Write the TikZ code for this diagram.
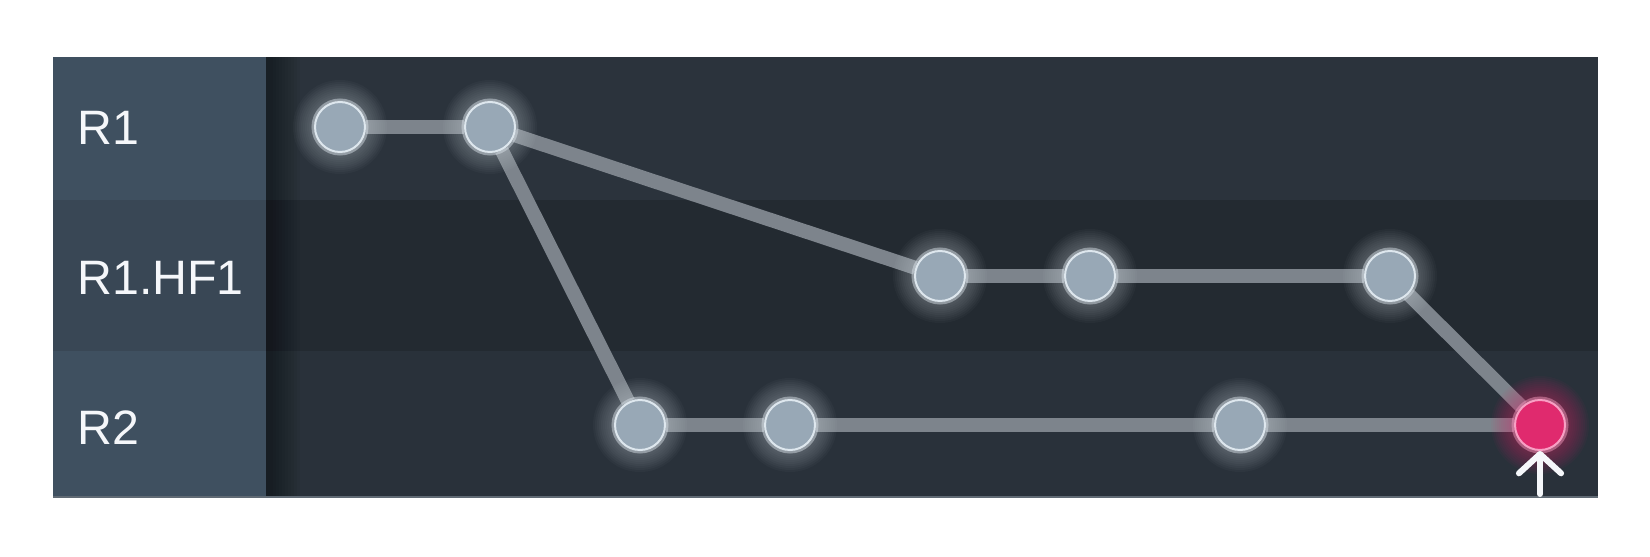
\documentclass[tikz,border=0pt]{standalone}
\usepackage{fontspec}
\setmainfont{Liberation Sans}
\usepackage{xcolor}
\usetikzlibrary{positioning, arrows.meta}
\definecolor{lanebg}{RGB}{63,80,96}
\definecolor{lanebgalt}{RGB}{57,71,85}
\definecolor{rowone}{RGB}{43,51,60}
\definecolor{rowtwo}{RGB}{35,42,49}
\definecolor{rowthree}{RGB}{41,49,58}
\definecolor{edgegrey}{RGB}{125,132,140}
\definecolor{rulegrey}{RGB}{96,106,116}
\definecolor{dotin}{RGB}{152,168,182}
\definecolor{dotout}{RGB}{222,231,238}
\definecolor{headin}{RGB}{224,42,110}
\definecolor{headout}{RGB}{248,160,196}
\definecolor{labeltext}{RGB}{245,247,250}
\pgfdeclarelayer{rows}
\pgfdeclarelayer{edges}
\pgfdeclarelayer{glow}
\pgfsetlayers{rows,edges,glow,main}

\begin{document}
\begin{tikzpicture}[
  x=0.02cm, y=-0.02cm,
  lane/.style={anchor=west, inner sep=0pt, text=labeltext,
    font=\fontsize{27.5pt}{32pt}\selectfont},
  dot/.style={circle, minimum size=1.0cm, inner sep=0pt, fill=dotin,
    draw=dotout, line width=0.04cm,
    preaction={draw=dotout, draw opacity=0.45, line width=0.14cm}},
  head/.style={circle, minimum size=1.0cm, inner sep=0pt, fill=headin,
    draw=headout, line width=0.04cm,
    preaction={draw=headout, draw opacity=0.45, line width=0.14cm}},
  link/.style={edgegrey, line width=0.28cm},
  pointer/.style={draw=labeltext, line width=0.12cm, line cap=round,
    -{Straight Barb[length=11pt, width=24pt, round]}}
]
\useasboundingbox (0,0) rectangle (1650,557);

% commits
\node[dot] (r1a) at (340,127) {};
\node[dot] (r1b) at (490,127) {};
\node[dot] (hfa) at (940,276) {};
\node[dot] (hfb) at (1090,276) {};
\node[dot] (hfc) at (1390,276) {};
\node[dot] (r2a) at (640,425) {};
\node[dot] (r2b) at (790,425) {};
\node[dot] (r2c) at (1240,425) {};
\node[head] (tip) at (1540,425) {};

% lanes
\begin{pgfonlayer}{rows}
  \fill[rowone] (266,57) rectangle (1598,200);
  \fill[rowtwo] (266,200) rectangle (1598,351);
  \fill[rowthree] (266,351) rectangle (1598,497);
  \foreach \i in {0,...,9}
    \fill[black, opacity=0.04] (266,57) rectangle (300-3*\i,497);
  \fill[lanebg] (53,57) rectangle (266,200);
  \fill[lanebgalt] (53,200) rectangle (266,351);
  \fill[lanebg] (53,351) rectangle (266,497);
  \draw[rulegrey, line width=0.05cm] (53,497) -- (1598,497);
\end{pgfonlayer}

\node[lane] (l1) at (77,128) {R1};
\node[lane] (l2) at (77,278) {R1.HF1};
\node[lane] (l3) at (77,428) {R2};

% branches
\begin{pgfonlayer}{edges}
  \draw[link] (r1a) -- (r1b);
  \draw[link] (r1b) -- (hfa);
  \draw[link] (r1b) -- (r2a);
  \draw[link] (hfa) -- (hfb);
  \draw[link] (hfb) -- (hfc);
  \draw[link] (hfc) -- (tip);
  \draw[link] (r2a) -- (r2b);
  \draw[link] (r2b) -- (r2c);
  \draw[link] (r2c) -- (tip);
\end{pgfonlayer}

\begin{pgfonlayer}{glow}
  \foreach \n in {r1a,r1b,hfa,hfb,hfc,r2a,r2b,r2c}
    \foreach \r in {0.54,0.58,...,0.98}
      \fill[dotout, opacity=0.03] (\n) circle (\r cm);
  \foreach \r in {0.54,0.58,...,1.02}
    \fill[headin, opacity=0.045] (tip) circle (\r cm);
\end{pgfonlayer}

\coordinate (ptr) at (1540,494);
\draw[pointer] (ptr) -- (tip.south);

\end{tikzpicture}
\end{document}
